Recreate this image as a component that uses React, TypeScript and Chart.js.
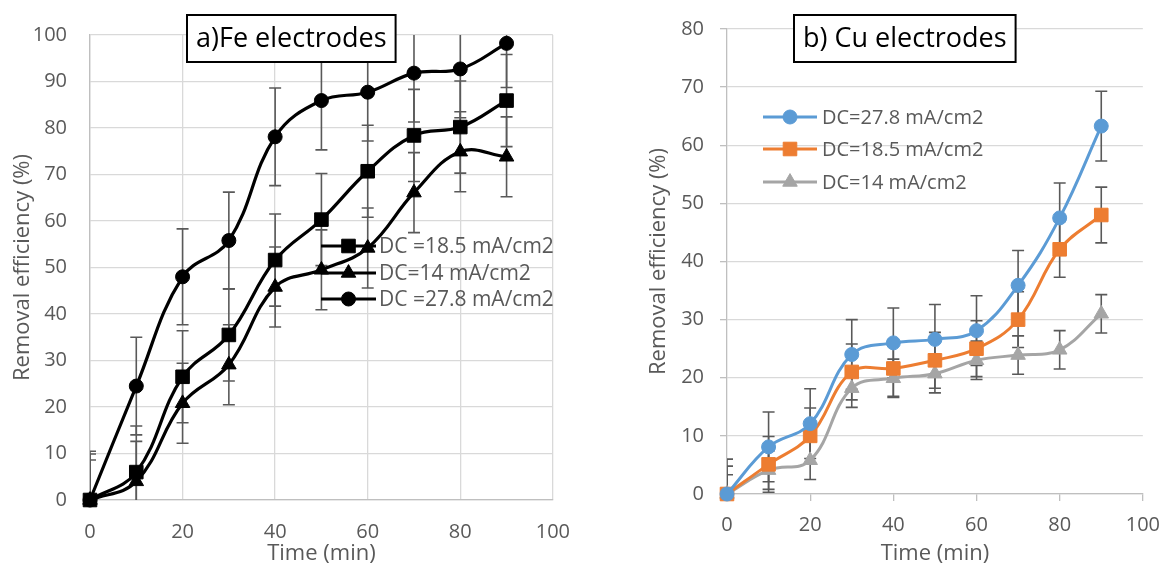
import React, { useEffect, useRef } from "react";
import { Chart, registerables } from "chart.js";
import { drawPoint } from "chart.js/helpers";

Chart.register(...registerables);

// ---------- data ----------
const timeMin = [0, 10, 20, 30, 40, 50, 60, 70, 80, 90];

// a) Fe electrodes
const feLabels = ["DC =18.5 mA/cm2", "DC=14 mA/cm2", "DC =27.8 mA/cm2"];
const fe185 = [0, 6.0, 26.5, 35.5, 51.6, 60.3, 70.7, 78.4, 80.2, 85.9];
const fe185Err = [9.9, 9.9, 9.9, 9.9, 9.9, 9.9, 9.9, 9.9, 9.9, 9.9];
const fe14 = [0, 4.0, 20.8, 29.1, 45.8, 49.5, 54.2, 66.1, 74.9, 73.8];
const fe14Err = [8.6, 8.6, 8.6, 8.6, 8.6, 8.6, 8.6, 8.6, 8.6, 8.6];
const fe278 = [0, 24.5, 48.0, 55.8, 78.1, 85.9, 87.7, 91.8, 92.7, 98.2];
const fe278Err = [10.5, 10.5, 10.3, 10.4, 10.5, 10.6, 10.5, 10.5, 10.5, 9.5];

// b) Cu electrodes
const cuLabels = ["DC=27.8 mA/cm2", "DC=18.5 mA/cm2", "DC=14 mA/cm2"];
const cu278 = [0, 8.1, 12.1, 24.0, 26.0, 26.6, 28.1, 35.9, 47.5, 63.3];
const cu278Err = [6, 6, 6, 6, 6, 6, 6, 6, 6, 6];
const cu185 = [0, 5.1, 10.0, 21.0, 21.6, 23.0, 25.0, 30.0, 42.1, 48.0];
const cu185Err = [4.8, 4.8, 4.8, 4.8, 4.8, 4.8, 4.8, 4.8, 4.8, 4.8];
const cu14 = [0, 4.1, 5.8, 18.2, 19.9, 20.7, 23.0, 23.9, 24.8, 31.0];
const cu14Err = [3.3, 3.3, 3.3, 3.3, 3.3, 3.3, 3.3, 3.3, 3.3, 3.3];

const feTitle = "a)Fe electrodes";
const cuTitle = "b) Cu electrodes";
const xTitle = "Time (min)";
const yTitle = "Removal efficiency (%)";

// ---------- styling ----------
const FONT = "'Open Sans', 'Liberation Sans', sans-serif";
const TEXT_GRAY = "#595959";
const GRID = "#d9d9d9";
const AXIS = "#bfbfbf";

const pts = (ys: number[]) => timeMin.map((x, i) => ({ x, y: ys[i] }));

function errorBarsPlugin(color: string, width: number, cap: number) {
  return {
    id: "errorBars",
    beforeDatasetsDraw(chart: any) {
      const { ctx, chartArea, scales } = chart;
      ctx.save();
      ctx.beginPath();
      ctx.rect(chartArea.left, chartArea.top, chartArea.right - chartArea.left, chartArea.bottom - chartArea.top);
      ctx.clip();
      ctx.strokeStyle = color;
      ctx.lineWidth = width;
      chart.data.datasets.forEach((ds: any) => {
        const errs: number[] = ds.errorBars;
        if (!errs) return;
        ds.data.forEach((p: any, j: number) => {
          const x = scales.x.getPixelForValue(p.x);
          const yt = scales.y.getPixelForValue(p.y + errs[j]);
          const yb = scales.y.getPixelForValue(p.y - errs[j]);
          ctx.beginPath();
          ctx.moveTo(x, yt);
          ctx.lineTo(x, yb);
          ctx.moveTo(x - cap, yt);
          ctx.lineTo(x + cap, yt);
          ctx.moveTo(x - cap, yb);
          ctx.lineTo(x + cap, yb);
          ctx.stroke();
        });
      });
      ctx.restore();
    },
  };
}

function boxTitlePlugin(text: string, left: number, top: number, h: number, font: string) {
  return {
    id: "boxTitle",
    afterDraw(chart: any) {
      const ctx = chart.ctx;
      ctx.save();
      ctx.font = font;
      const w = ctx.measureText(text).width + 18;
      ctx.fillStyle = "#ffffff";
      ctx.fillRect(left, top, w, h);
      ctx.strokeStyle = "#000000";
      ctx.lineWidth = 2;
      ctx.strokeRect(left, top, w, h);
      ctx.fillStyle = "#000000";
      ctx.textAlign = "left";
      ctx.textBaseline = "middle";
      ctx.fillText(text, left + 9, top + h / 2 + 1);
      ctx.restore();
    },
  };
}

function inlineLegendPlugin(lineFrom: number, lineTo: number, textX: number, rows: number[], font: string) {
  return {
    id: "inlineLegend",
    afterDraw(chart: any) {
      const ctx = chart.ctx;
      ctx.save();
      chart.data.datasets.forEach((ds: any, i: number) => {
        const y = rows[i];
        ctx.strokeStyle = ds.borderColor;
        ctx.lineWidth = ds.borderWidth;
        ctx.beginPath();
        ctx.moveTo(lineFrom, y);
        ctx.lineTo(lineTo, y);
        ctx.stroke();
        ctx.fillStyle = ds.pointBackgroundColor;
        ctx.strokeStyle = ds.pointBorderColor;
        ctx.lineWidth = 1;
        drawPoint(ctx, { pointStyle: ds.pointStyle, radius: ds.pointRadius, rotation: 0, borderWidth: 1 } as any, (lineFrom + lineTo) / 2, y);
        ctx.fillStyle = TEXT_GRAY;
        ctx.font = font;
        ctx.textAlign = "left";
        ctx.textBaseline = "middle";
        ctx.fillText(ds.label, textX, y + 1);
      });
      ctx.restore();
    },
  };
}

function lineDs(label: string, ys: number[], errs: number[], color: string, style: string, radius: number, bw: number) {
  return {
    label,
    data: pts(ys),
    errorBars: errs,
    borderColor: color,
    backgroundColor: color,
    pointBackgroundColor: color,
    pointBorderColor: color,
    pointBorderWidth: 1,
    borderWidth: bw,
    pointStyle: style,
    pointRadius: radius,
    tension: 0.4,
    fill: false,
    clip: false,
  } as any;
}

function makeFe(): any {
  return {
    type: "line",
    data: {
      datasets: [
        lineDs(feLabels[0], fe185, fe185Err, "#000000", "rect", 9.6, 3.2),
        lineDs(feLabels[1], fe14, fe14Err, "#000000", "triangle", 8.4, 3.2),
        lineDs(feLabels[2], fe278, fe278Err, "#000000", "circle", 7, 3.2),
      ],
    },
    plugins: [
      errorBarsPlugin("#595959", 1.6, 6),
      inlineLegendPlugin(321, 376, 379, [246, 273, 299], `21px ${FONT}`),
      boxTitlePlugin(feTitle, 187, 15, 47, `27px ${FONT}`),
    ],
    options: {
      responsive: false,
      animation: false,
      layout: { padding: { top: 29, right: 34, left: 0, bottom: 0 } },
      plugins: { legend: { display: false }, tooltip: { enabled: false } },
      scales: {
        x: {
          type: "linear",
          min: 0,
          max: 100,
          ticks: { stepSize: 20, padding: 20, color: TEXT_GRAY, font: { family: FONT, size: 20 } },
          grid: { color: GRID, drawTicks: false, lineWidth: 1.3 },
          border: { color: AXIS, width: 1.3 },
          title: { display: true, text: xTitle, color: TEXT_GRAY, font: { family: FONT, size: 22 }, padding: { top: 0, bottom: 0 } },
          afterFit: (s: any) => { s.height = 67; },
        },
        y: {
          type: "linear",
          min: 0,
          max: 100,
          ticks: { stepSize: 10, padding: 23, color: TEXT_GRAY, font: { family: FONT, size: 20 } },
          grid: { color: GRID, drawTicks: false, lineWidth: 1.3 },
          border: { color: AXIS, width: 1.3 },
          title: { display: true, text: yTitle, color: TEXT_GRAY, font: { family: FONT, size: 22 }, padding: { top: 10, bottom: 0 } },
          afterFit: (s: any) => { s.width = 90; },
        },
      },
    },
  };
}

function makeCu(): any {
  return {
    type: "line",
    data: {
      datasets: [
        lineDs(cuLabels[0], cu278, cu278Err, "#5B9BD5", "circle", 7, 3),
        lineDs(cuLabels[1], cu185, cu185Err, "#ED7D31", "rect", 9.6, 3),
        lineDs(cuLabels[2], cu14, cu14Err, "#A5A5A5", "triangle", 8.4, 3),
      ],
    },
    plugins: [
      errorBarsPlugin("#595959", 1.6, 6),
      inlineLegendPlugin(173, 227, 232, [117, 149, 182], `20px ${FONT}`),
      boxTitlePlugin(cuTitle, 204, 15, 47, `27px ${FONT}`),
    ],
    options: {
      responsive: false,
      animation: false,
      layout: { padding: { top: 29, right: 20, left: 0, bottom: 0 } },
      plugins: { legend: { display: false }, tooltip: { enabled: false } },
      scales: {
        x: {
          type: "linear",
          min: 0,
          max: 100,
          ticks: { stepSize: 20, padding: 12, color: TEXT_GRAY, font: { family: FONT, size: 20 } },
          grid: { drawOnChartArea: false, drawTicks: true, tickLength: 7, color: AXIS, tickColor: AXIS, lineWidth: 1.3 },
          border: { color: AXIS, width: 1.3 },
          title: { display: true, text: xTitle, color: TEXT_GRAY, font: { family: FONT, size: 22 }, padding: { top: 0, bottom: 0 } },
          afterFit: (s: any) => { s.height = 73; },
        },
        y: {
          type: "linear",
          min: 0,
          max: 80,
          ticks: { stepSize: 10, padding: 16, color: TEXT_GRAY, font: { family: FONT, size: 20 } },
          grid: { color: GRID, drawTicks: true, tickLength: 7, tickColor: AXIS, lineWidth: 1.3 },
          border: { color: AXIS, width: 1.3 },
          title: { display: true, text: yTitle, color: TEXT_GRAY, font: { family: FONT, size: 22 }, padding: { top: 56, bottom: 0 } },
          afterFit: (s: any) => { s.width = 137; },
        },
      },
    },
  };
}

function ChartCanvas({ make, width, height }: { make: () => any; width: number; height: number }) {
  const ref = useRef<HTMLCanvasElement>(null);
  useEffect(() => {
    const chart = new Chart(ref.current as HTMLCanvasElement, make());
    return () => chart.destroy();
  }, []);
  return <canvas ref={ref} width={width} height={height} style={{ display: "block", width, height }} />;
}

export default function App() {
  return (
    <div style={{ position: "absolute", left: 0, top: 0, width: 1172, height: 567, background: "#ffffff", display: "flex" }}>
      <ChartCanvas make={makeFe} width={590} height={567} />
      <ChartCanvas make={makeCu} width={582} height={567} />
    </div>
  );
}
